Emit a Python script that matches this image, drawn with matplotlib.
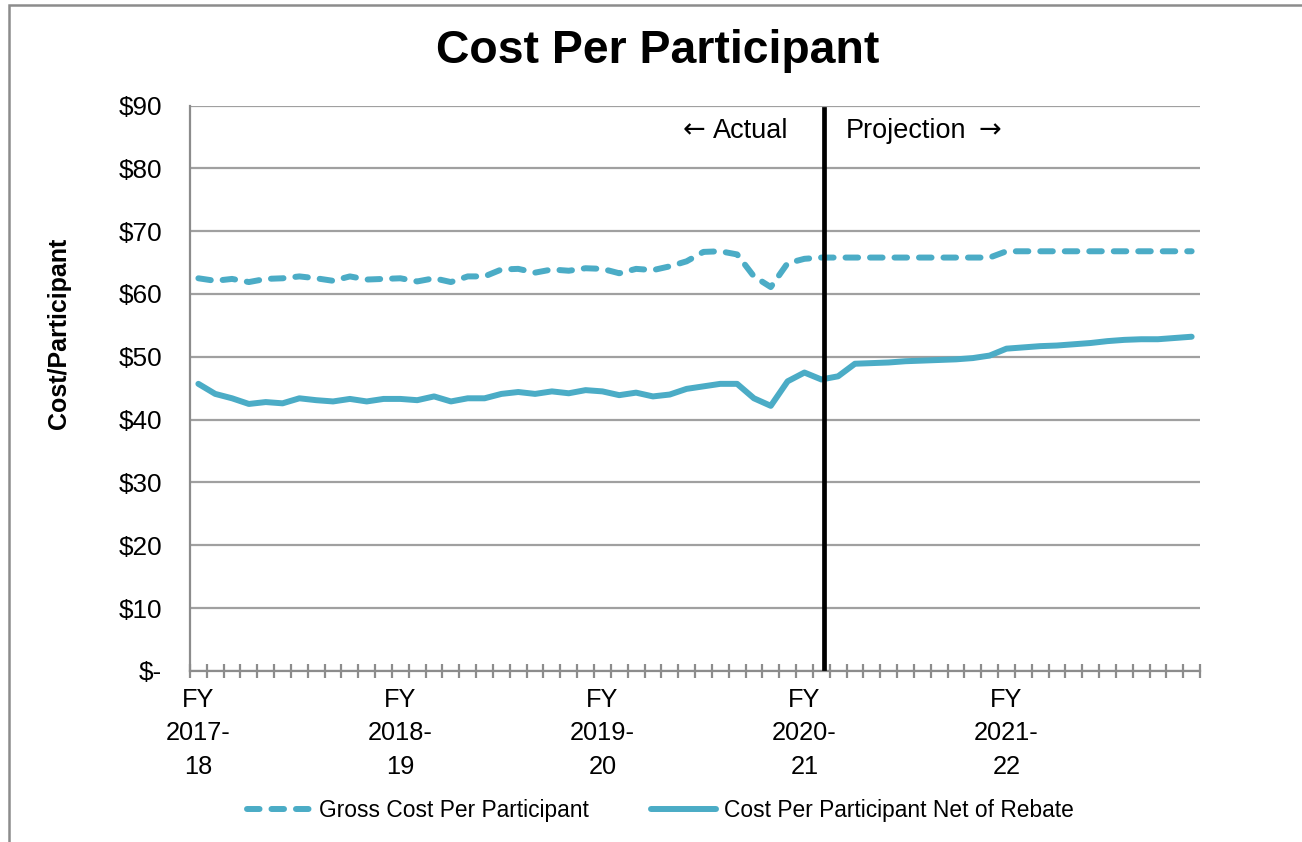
import matplotlib

matplotlib.use("Agg")

import matplotlib.pyplot as plt
import numpy as np
from matplotlib.patches import Rectangle

plt.rcParams["font.family"] = ["Liberation Sans", "DejaVu Sans"]

#
# Data (monthly, FY 2017-18 .. FY 2021-22)
#
fiscal_years = ["FY\n2017-\n18", "FY\n2018-\n19", "FY\n2019-\n20", "FY\n2020-\n21", "FY\n2021-\n22"]

gross_cost = [
    62.5, 62.1, 62.4, 61.9, 62.4, 62.5, 62.8, 62.5, 62.1, 62.8,
    62.3, 62.4, 62.5, 62.0, 62.5, 61.9, 62.8, 62.8, 63.9, 64.0,
    63.4, 63.9, 63.7, 64.1, 64.0, 63.3, 64.0, 63.8, 64.4, 65.2,
    66.7, 66.8, 66.3, 62.8, 61.1, 64.9, 65.6, 65.8, 65.8, 65.8,
    65.8, 65.8, 65.8, 65.8, 65.8, 65.8, 65.8, 65.8, 66.8, 66.8,
    66.8, 66.8, 66.8, 66.8, 66.8, 66.8, 66.8, 66.8, 66.8, 66.8,
]

net_cost = [
    45.7, 44.1, 43.4, 42.5, 42.8, 42.6, 43.4, 43.1, 42.9, 43.3,
    42.9, 43.3, 43.3, 43.1, 43.7, 42.9, 43.4, 43.4, 44.1, 44.4,
    44.1, 44.5, 44.2, 44.7, 44.5, 43.9, 44.3, 43.7, 44.0, 44.9,
    45.3, 45.7, 45.7, 43.4, 42.2, 46.1, 47.5, 46.4, 46.9, 48.9,
    49.0, 49.1, 49.3, 49.4, 49.5, 49.6, 49.8, 50.2, 51.3, 51.5,
    51.7, 51.8, 52.0, 52.2, 52.5, 52.7, 52.8, 52.8, 53.0, 53.2,
]

projection_start = 37.18
y_ticks = [0, 10, 20, 30, 40, 50, 60, 70, 80, 90]
y_tick_labels = ["$-", "$10", "$20", "$30", "$40", "$50", "$60", "$70", "$80", "$90"]

line_color = "#4BACC6"
grid_color = "#A0A0A0"
axis_color = "#8C8C8C"

months = np.arange(len(net_cost))

fig = plt.figure(figsize=(13.02, 8.42), dpi=100)
ax = fig.add_axes([0.1459, 0.2031, 0.9217 - 0.1459, 0.8747 - 0.2031])

#
# Outer chart frame
#
fig.patches.append(
    Rectangle(
        (9 / 1302, -0.1),
        1.2,
        1.1 - 5 / 842,
        transform=fig.transFigure,
        fill=False,
        edgecolor="#8C8C8C",
        linewidth=1.8,
    )
)

#
# Series
#
ax.plot(
    months,
    gross_cost,
    color=line_color,
    linewidth=4.3,
    linestyle=(0, (2.1, 2.0)),
    dash_capstyle="round",
    solid_capstyle="round",
    label="Gross Cost Per Participant",
    zorder=3,
)

ax.plot(
    months,
    net_cost,
    color=line_color,
    linewidth=4.3,
    solid_capstyle="round",
    solid_joinstyle="round",
    label="Cost Per Participant Net of Rebate",
    zorder=3,
)

#
# Actual / projection divider
#
ax.plot(
    [projection_start, projection_start],
    [0.5, 89.5],
    color="black",
    linewidth=3.4,
    zorder=4,
)

ax.text(projection_start - 2.15, 86.0, "Actual", ha="right", va="center", fontsize=19.5)
ax.text(projection_start - 7.08, 86.0, "\u2190", ha="right", va="center", fontsize=19.5, family="DejaVu Sans")
ax.text(projection_start + 1.3, 86.0, "Projection", ha="left", va="center", fontsize=19.5)
ax.text(projection_start + 9.14, 86.0, "\u2192", ha="left", va="center", fontsize=19.5, family="DejaVu Sans")

#
# Axes
#
ax.set_xlim(-0.5, len(net_cost) - 0.5)
ax.set_ylim(0, 90)

ax.set_yticks(y_ticks)
ax.set_yticklabels(y_tick_labels, fontsize=18.8)
ax.tick_params(axis="y", length=0, pad=20)

ax.set_xticks(np.arange(-0.5, len(net_cost), 1))
ax.set_xticklabels([])
ax.tick_params(axis="x", which="major", direction="inout", length=10, width=1.6, color=axis_color)

ax.set_xticks(np.arange(0, len(net_cost), 12), minor=True)
ax.set_xticklabels(fiscal_years, minor=True, fontsize=18.3, linespacing=1.48)
ax.tick_params(axis="x", which="minor", length=0, pad=12.5)

ax.yaxis.grid(True, color=grid_color, linewidth=1.6)
ax.set_axisbelow(True)

for side in ["top", "right"]:
    ax.spines[side].set_visible(False)

for side in ["left", "bottom"]:
    ax.spines[side].set_color(axis_color)
    ax.spines[side].set_linewidth(1.6)

fig.text(0.045, 0.604, "Cost/Participant", rotation=90, ha="center", va="center", fontsize=18, fontweight="bold")

fig.text(0.505, 0.94, "Cost Per Participant", ha="center", va="center", fontsize=33.4, fontweight="bold")

#
# Legend
#
fig.legend(
    loc="center",
    bbox_to_anchor=(0.507, 0.038),
    ncol=2,
    frameon=False,
    fontsize=16.4,
    handlelength=2.85,
    columnspacing=2.7,
    handletextpad=0.35,
)

fig.savefig("out.png", dpi=100)
